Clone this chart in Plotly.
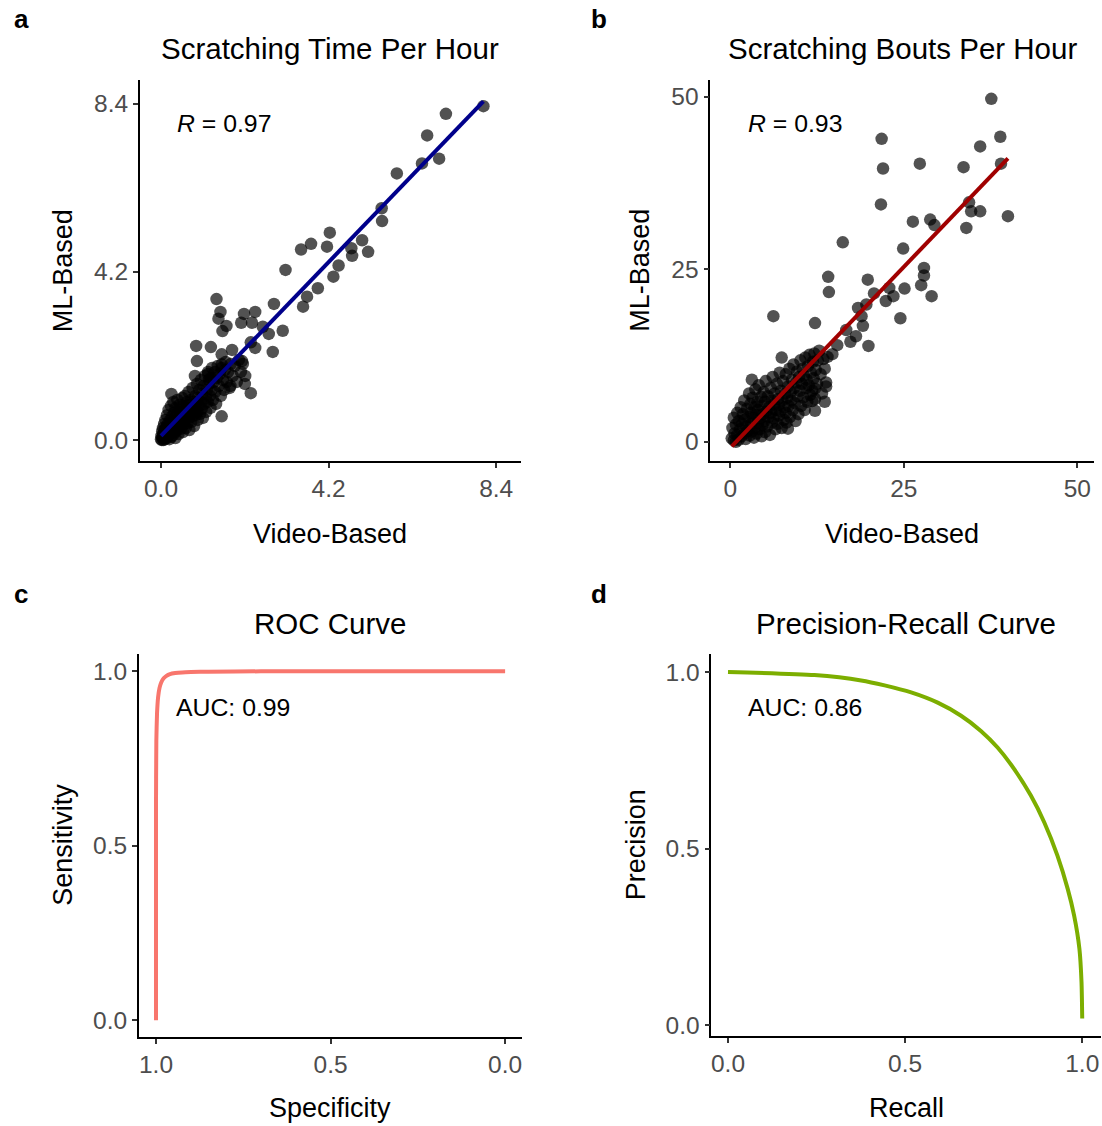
import numpy as np
import plotly.graph_objects as go

W, H = 1102, 1126
FONT = "Liberation Sans, Arial, sans-serif"

# ---------------- Panel a data: Scratching Time Per Hour ----------------
time_video = [8.08, 7.14, 6.67, 6.97, 6.54, 5.91, 5.53, 5.54, 4.23, 3.76, 3.51, 4.16, 5.04, 4.77, 5.19,
              4.79, 4.45, 4.32, 3.12, 3.93, 3.66, 3.56, 2.83, 1.39, 1.49, 1.44, 1.64, 1.54, 2.08, 2.36,
              2.01, 2.28, 2.55, 2.70, 3.05, 0.88, 1.25, 0.90, 1.52, 1.78, 2.36, 2.80, 2.25, 1.52, 2.03,
              2.11, 1.74, 2.25, 1.52, 0.85, 1.18, 1.20, 0.26,
              0.00, 0.01, 0.02, 0.03, 0.04, 0.05, 0.05, 0.06, 0.07, 0.08, 0.08, 0.10, 0.10, 0.11, 0.12,
              0.13, 0.14, 0.15, 0.16, 0.17, 0.18, 0.19, 0.20, 0.21, 0.22, 0.23, 0.25, 0.25, 0.26, 0.27,
              0.28, 0.30, 0.30, 0.31, 0.32, 0.33, 0.35, 0.35, 0.36, 0.37, 0.38, 0.40, 0.40, 0.41, 0.42,
              0.44, 0.45, 0.46, 0.47, 0.48, 0.50, 0.50, 0.52, 0.53, 0.54, 0.55, 0.56, 0.57, 0.58, 0.60,
              0.60, 0.62, 0.63, 0.64, 0.65, 0.66, 0.68, 0.69, 0.70, 0.71, 0.72, 0.74, 0.75, 0.76, 0.78,
              0.79, 0.80, 0.82, 0.83, 0.84, 0.86, 0.87, 0.88, 0.90, 0.91, 0.92, 0.93, 0.95, 0.96, 0.98,
              1.00, 1.00, 1.02, 1.04, 1.05, 1.07, 1.08, 1.10, 1.12, 1.13, 1.15, 1.17, 1.18, 1.20, 1.22,
              1.24, 1.25, 1.27, 1.28, 1.30, 1.32, 1.35, 1.36, 1.38, 1.40, 1.42, 1.45, 1.47, 1.50, 1.52,
              1.55, 1.58, 1.60, 1.62, 1.65, 1.68, 1.72, 1.75, 1.80, 1.85, 1.90, 1.95, 2.00, 2.05, 2.10]
time_ml = [8.34, 8.15, 7.61, 7.03, 6.91, 6.66, 5.79, 5.47, 5.18, 4.90, 4.76, 4.83, 4.99, 4.79, 4.70,
           4.60, 4.36, 4.08, 4.25, 3.79, 3.58, 3.33, 3.40, 3.52, 3.20, 3.03, 2.85, 2.72, 3.15, 3.20,
           2.93, 2.93, 2.83, 2.65, 2.73, 2.35, 2.32, 1.97, 2.14, 2.25, 2.30, 2.20, 2.44, 1.89, 1.97,
           1.60, 1.35, 1.17, 0.59, 1.60, 1.65, 1.50, 1.15,
           0.02, 0.10, 0.00, 0.22, 0.05, 0.30, 0.12, 0.00, 0.18, 0.40, 0.08, 0.25, 0.02, 0.50, 0.15,
           0.32, 0.05, 0.62, 0.22, 0.40, 0.10, 0.75, 0.30, 0.02, 0.48, 0.18, 0.85, 0.35, 0.08, 0.58,
           0.25, 0.45, 0.12, 0.95, 0.30, 0.68, 0.20, 0.50, 0.05, 0.80, 0.38, 0.60, 0.25, 1.00, 0.45,
           0.15, 0.70, 0.35, 0.88, 0.55, 0.28, 0.75, 0.45, 1.05, 0.62, 0.20, 0.85, 0.40, 0.70, 0.52,
           1.10, 0.30, 0.80, 0.60, 0.95, 0.42, 0.72, 1.20, 0.55, 0.25, 0.88, 0.65, 1.00, 0.45, 0.80,
           1.30, 0.60, 0.95, 0.35, 0.75, 1.10, 0.62, 0.90, 1.40, 0.70, 0.50, 1.05, 0.85, 1.25, 0.65,
           0.95, 1.50, 0.78, 1.15, 0.55, 1.35, 0.90, 1.60, 1.05, 0.70, 1.25, 0.95, 1.70, 1.40, 1.10,
           0.80, 1.55, 1.25, 1.80, 1.00, 1.45, 1.70, 1.20, 0.90, 1.55, 1.85, 1.35, 1.65, 1.10, 1.80,
           1.50, 1.25, 1.75, 1.95, 1.45, 1.70, 1.30, 1.90, 1.60, 1.85, 1.45, 2.00, 1.70, 1.90, 1.40]

# ---------------- Panel b data: Scratching Bouts Per Hour ----------------
bouts_video = [37.6, 38.9, 36.0, 39.0, 33.6, 27.3, 21.8, 22.0, 21.7, 40.0, 34.4, 34.7, 36.0, 34.0, 28.8,
               29.4, 26.3, 24.9, 16.2, 27.9, 27.9, 27.5, 29.0, 25.1, 19.8, 14.1, 14.2, 22.9, 23.5, 22.4,
               20.7, 24.5, 6.2, 12.2, 18.4, 19.6, 18.9, 19.1, 16.7, 18.1, 17.3, 19.9, 15.4, 14.7, 14.0,
               7.4, 3.1, 13.8, 12.2, 13.6, 12.2, 11.8, 8.3,
               0.2, 0.3, 0.5, 0.5, 0.6, 0.8, 0.8, 1.0, 1.0, 1.2, 1.2, 1.4, 1.5, 1.6, 1.7, 1.8, 2.0, 2.0,
               2.1, 2.2, 2.3, 2.4, 2.5, 2.6, 2.7, 2.8, 2.9, 3.0, 3.0, 3.1, 3.2, 3.3, 3.4, 3.5, 3.5, 3.6,
               3.7, 3.8, 3.9, 4.0, 4.0, 4.1, 4.2, 4.3, 4.4, 4.5, 4.5, 4.6, 4.7, 4.8, 4.9, 5.0, 5.0, 5.1,
               5.2, 5.3, 5.4, 5.5, 5.6, 5.7, 5.8, 5.9, 6.0, 6.0, 6.1, 6.2, 6.3, 6.4, 6.5, 6.6, 6.7, 6.8,
               6.9, 7.0, 7.0, 7.1, 7.2, 7.3, 7.4, 7.5, 7.6, 7.7, 7.8, 7.9, 8.0, 8.0, 8.1, 8.2, 8.3, 8.4,
               8.5, 8.6, 8.7, 8.8, 8.9, 9.0, 9.1, 9.2, 9.3, 9.4, 9.5, 9.6, 9.7, 9.8, 9.9, 10.0, 10.1,
               10.2, 10.3, 10.4, 10.5, 10.6, 10.7, 10.8, 10.9, 11.0, 11.1, 11.2, 11.3, 11.4, 11.5, 11.6,
               11.8, 11.9, 12.0, 12.1, 12.2, 12.3, 12.5, 12.6, 12.8, 13.0, 13.2, 13.4, 13.6, 13.8]
bouts_ml = [49.7, 44.2, 42.8, 40.3, 39.8, 40.3, 43.9, 39.6, 34.4, 32.7, 34.7, 33.4, 33.4, 31.0, 32.2,
            31.4, 31.9, 28.0, 28.9, 25.2, 24.1, 22.7, 21.1, 22.2, 23.5, 23.9, 21.7, 22.3, 21.1, 20.4,
            21.5, 17.9, 18.2, 17.2, 19.4, 19.9, 18.2, 16.8, 16.2, 15.3, 14.5, 13.9, 14.0, 12.7, 12.3,
            12.2, 9.0, 8.6, 7.7, 5.8, 4.5, 5.9, 1.9,
            0.5, 2.0, 0.2, 3.5, 1.2, 0.0, 2.5, 4.2, 1.0, 0.3, 3.0, 1.8, 5.0, 0.8, 2.6, 4.0, 1.2, 6.0,
            3.2, 0.4, 2.2, 4.8, 1.6, 3.6, 7.0, 0.9, 5.5, 2.6, 4.2, 1.5, 6.4, 3.4, 0.6, 5.0, 2.0, 7.6,
            3.9, 1.2, 5.8, 2.8, 4.6, 8.2, 1.8, 3.4, 6.5, 0.8, 5.2, 2.4, 4.0, 7.2, 3.0, 1.4, 5.8, 8.8,
            4.4, 2.2, 6.6, 3.6, 5.0, 1.0, 7.8, 4.2, 2.8, 6.0, 9.4, 3.4, 5.4, 7.0, 1.8, 4.6, 8.4, 2.6,
            6.2, 3.8, 5.4, 10.0, 4.4, 7.4, 2.0, 6.0, 8.8, 3.2, 5.0, 7.0, 4.2, 9.8, 2.8, 6.4, 8.0, 5.2,
            10.6, 3.6, 7.2, 6.0, 9.0, 4.6, 11.2, 7.8, 5.6, 3.0, 8.6, 10.2, 6.6, 4.0, 9.4, 7.4, 11.8,
            5.2, 8.4, 10.6, 6.4, 9.6, 4.6, 12.2, 7.8, 9.0, 5.8, 11.0, 8.2, 12.6, 6.8, 10.0,
            7.4, 11.6, 9.2, 12.8, 6.2, 10.4, 8.4, 11.8, 13.2, 9.8, 7.0, 12.0, 10.6, 8.0]

# ---------------- Panel c data: ROC curve ----------------
roc_specificity = [1.000, 1.000, 0.999, 0.997, 0.994, 0.990, 0.985, 0.978, 0.970, 0.960, 0.945,
                   0.925, 0.900, 0.850, 0.700, 0.500, 0.300, 0.000]
roc_sensitivity = [0.000, 0.600, 0.800, 0.880, 0.925, 0.952, 0.968, 0.980, 0.987, 0.992, 0.995,
                   0.997, 0.998, 0.999, 1.000, 1.000, 1.000, 1.000]

# ---------------- Panel d data: Precision-Recall curve ----------------
pr_recall = [0.000, 0.244, 0.376, 0.442, 0.517, 0.592, 0.658, 0.714, 0.761, 0.808, 0.855,
             0.893, 0.930, 0.959, 0.977, 0.992, 0.998, 1.000]
pr_precision = [1.000, 0.991, 0.976, 0.962, 0.942, 0.913, 0.876, 0.833, 0.786, 0.725, 0.650,
                0.574, 0.480, 0.386, 0.311, 0.217, 0.122, 0.019]

titles = ["Scratching Time Per Hour", "Scratching Bouts Per Hour", "ROC Curve", "Precision-Recall Curve"]
panel_letters = ["a", "b", "c", "d"]
r_labels = ["0.97", "0.93"]
auc_labels = ["0.99", "0.86"]

def px_x(p):
    return p / W

def px_y(p):
    return 1 - p / H

fig = go.Figure()

pt_marker = dict(color="rgba(0,0,0,0.68)", size=12.5, line=dict(width=0))

# panel a
fig.add_trace(go.Scatter(x=time_video, y=time_ml, mode="markers", marker=pt_marker,
                         xaxis="x", yaxis="y", showlegend=False, hoverinfo="skip"))
ca = np.polyfit(time_video, time_ml, 1)
xa = np.array([min(time_video), max(time_video)])
fig.add_trace(go.Scatter(x=xa, y=np.polyval(ca, xa), mode="lines",
                         line=dict(color="#00008B", width=4), xaxis="x", yaxis="y",
                         showlegend=False, hoverinfo="skip"))
# panel b
fig.add_trace(go.Scatter(x=bouts_video, y=bouts_ml, mode="markers", marker=pt_marker,
                         xaxis="x2", yaxis="y2", showlegend=False, hoverinfo="skip"))
cb = np.polyfit(bouts_video, bouts_ml, 1)
xb = np.array([min(bouts_video), max(bouts_video)])
fig.add_trace(go.Scatter(x=xb, y=np.polyval(cb, xb), mode="lines",
                         line=dict(color="#A00000", width=4), xaxis="x2", yaxis="y2",
                         showlegend=False, hoverinfo="skip"))
# panel c
fig.add_trace(go.Scatter(x=roc_specificity, y=roc_sensitivity, mode="lines",
                         line=dict(color="#F8766D", width=4, shape="spline", smoothing=0.5),
                         xaxis="x3", yaxis="y3", showlegend=False, hoverinfo="skip"))
# panel d
fig.add_trace(go.Scatter(x=pr_recall, y=pr_precision, mode="lines",
                         line=dict(color="#7CAE00", width=4, shape="spline", smoothing=0.6),
                         xaxis="x4", yaxis="y4", showlegend=False, hoverinfo="skip"))

def axis(domain_px, rng, tickvals, ticktext, anchor, vertical=False):
    if vertical:
        dom = [px_y(domain_px[1]), px_y(domain_px[0])]
    else:
        dom = [px_x(domain_px[0]), px_x(domain_px[1])]
    return dict(domain=dom, range=rng, tickvals=tickvals, ticktext=ticktext, anchor=anchor,
                showline=True, linecolor="black", linewidth=1.7, ticks="outside", ticklen=5,
                tickwidth=1.5, tickcolor="#333333", showgrid=False, zeroline=False,
                ticklabeloverflow="allow",
                tickfont=dict(family=FONT, size=24.5, color="#4D4D4D"), fixedrange=True)

fig.update_layout(
    width=W, height=H, margin=dict(l=0, r=0, t=0, b=0),
    paper_bgcolor="white", plot_bgcolor="white", showlegend=False,
    xaxis=axis([140, 521], [-0.53, 9.01], [0, 4.2, 8.4], ["0.0", "4.2", "8.4"], "y"),
    yaxis=axis([80, 462], [-0.52, 9.0], [0, 4.2, 8.4], ["0.0", "4.2", "8.4"], "x", vertical=True),
    xaxis2=axis([711, 1095], [-2.88, 52.4], [0, 25, 50], ["0", "25", "50"], "y2"),
    yaxis2=axis([80, 462], [-2.75, 52.46], [0, 25, 50], ["0", "25", "50"], "x2", vertical=True),
    xaxis3=axis([139, 522], [1.049, -0.047], [1, 0.5, 0], ["1.0", "0.5", "0.0"], "y3"),
    yaxis3=axis([656, 1040], [-0.049, 1.049], [0, 0.5, 1], ["0.0", "0.5", "1.0"], "x3", vertical=True),
    xaxis4=axis([712, 1102], [-0.047, 1.053], [0, 0.5, 1], ["0.0", "0.5", "1.0"], "y4"),
    yaxis4=axis([656, 1039], [-0.031, 1.05], [0, 0.5, 1], ["0.0", "0.5", "1.0"], "x4", vertical=True),
)

ann = []
def text(x, y, s, size, rot=0, xanchor="center"):
    ann.append(dict(x=px_x(x), y=px_y(y), xref="paper", yref="paper", text=s, showarrow=False,
                    xanchor=xanchor, yanchor="middle", textangle=rot,
                    font=dict(family=FONT, size=size, color="black")))

# panel letters
for (lx, ly), letter in zip([(12, 19), (590, 19), (12, 596), (590, 596)], panel_letters):
    text(lx, ly, "<b>" + letter + "</b>", 26, xanchor="left")
# titles
for (tx, ty), t in zip([(330.5, 49), (903, 49), (330.5, 625), (907, 625)], titles):
    text(tx, ty, t, 29.5)
# axis titles
text(330.5, 535, "Video-Based", 27)
text(903, 535, "Video-Based", 27)
text(330.5, 1111, "Specificity", 27)
text(907, 1111, "Recall", 27)
text(63, 271, "ML-Based", 27, rot=-90)
text(641, 271, "ML-Based", 27, rot=-90)
text(63, 847, "Sensitivity", 27, rot=-90)
text(636, 847, "Precision", 27, rot=-90)

# in-panel statistics
stat_font = dict(family=FONT, size=24.8, color="black")
ann.append(dict(x=0.35, y=7.9, xref="x", yref="y", text="<i>R</i> = " + r_labels[0], showarrow=False,
                xanchor="left", yanchor="middle", font=stat_font))
ann.append(dict(x=2.3, y=46.1, xref="x2", yref="y2", text="<i>R</i> = " + r_labels[1], showarrow=False,
                xanchor="left", yanchor="middle", font=stat_font))
ann.append(dict(x=0.948, y=0.897, xref="x3", yref="y3", text="AUC: " + auc_labels[0], showarrow=False,
                xanchor="left", yanchor="middle", font=stat_font))
ann.append(dict(x=0.05, y=0.90, xref="x4", yref="y4", text="AUC: " + auc_labels[1], showarrow=False,
                xanchor="left", yanchor="middle", font=stat_font))

fig.update_layout(annotations=ann)

# remove the default 8px page margin so the 1102x1126 figure fills the window exactly
page_fix = ("document.documentElement.style.margin='0';document.body.style.margin='0';"
            "document.documentElement.style.overflow='hidden';document.body.style.overflow='hidden';")
fig.write_html("out.html", post_script=page_fix, config={"displayModeBar": False})
